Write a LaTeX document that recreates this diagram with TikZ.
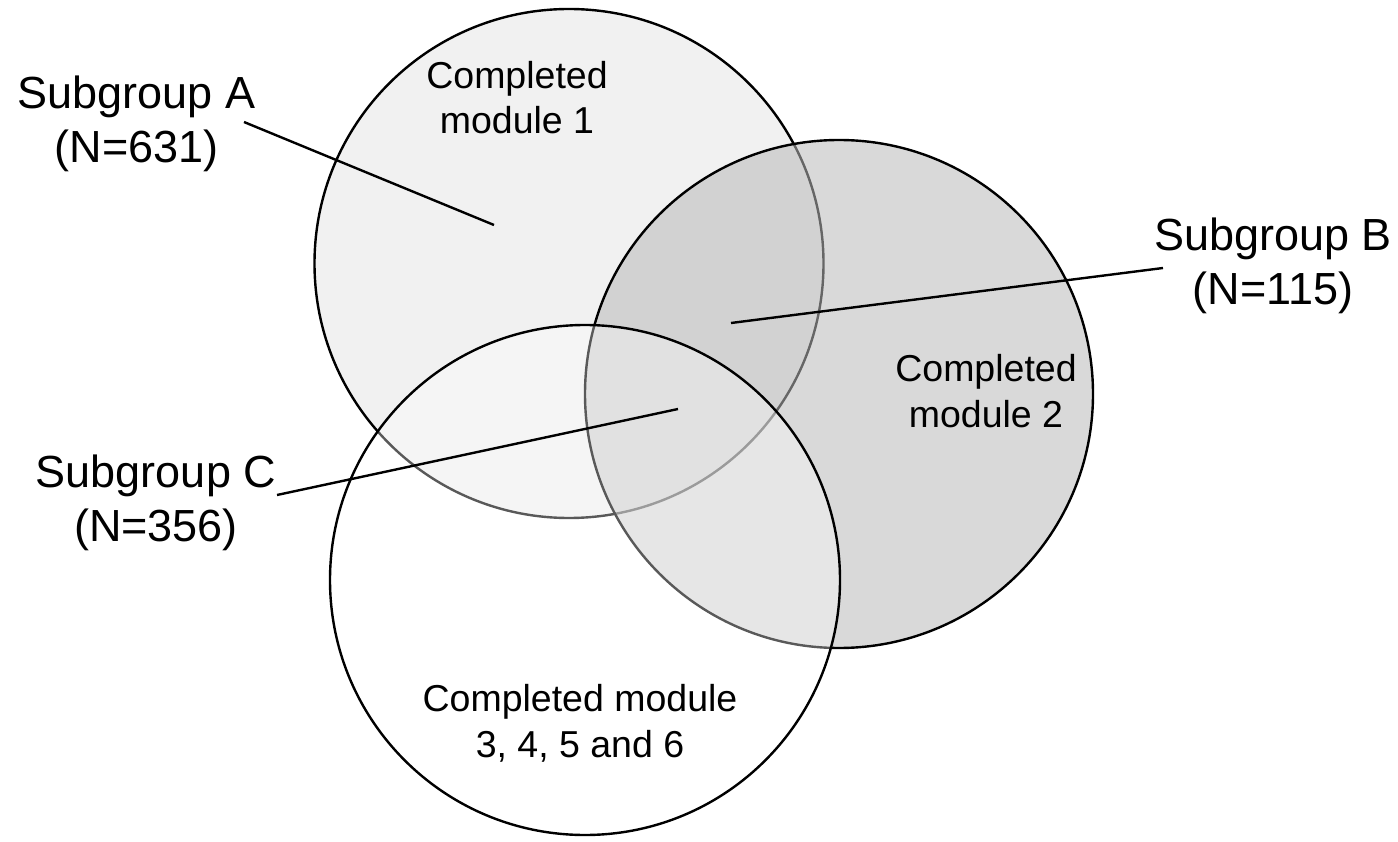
\documentclass[tikz,border=0pt]{standalone}
\usepackage{fontspec}
\setmainfont{Liberation Sans}
\begin{document}
\begin{tikzpicture}[x=1pt,y=-1pt,
  setcircle/.style={circle, draw=black, line width=2.4pt, inner sep=0pt},
  biglabel/.style={align=center, anchor=base, inner sep=0pt, font=\fontsize{45}{54}\selectfont},
  smalllabel/.style={align=center, anchor=base, inner sep=0pt, font=\fontsize{37.5}{45.5}\selectfont},
  pointer/.style={draw=black, line width=2.4pt}]
\useasboundingbox (0,0) rectangle (1398,842);
% circles
\node[setcircle, minimum size=509pt, fill=black!5.5] (A) at (569,263.5) {};
\node[setcircle, minimum size=508pt, fill=black!27, fill opacity=0.55] (B) at (839,394) {};
\node[setcircle, minimum size=510pt, fill=white, fill opacity=0.35] (C) at (585,580) {};
% circle texts (anchor=base is the baseline of the last line)
\node[smalllabel] (tA) at (517,134) {Completed\\module 1};
\node[smalllabel] (tB) at (986,427) {Completed\\module 2};
\node[smalllabel] (tC) at (580,757) {Completed module\\3, 4, 5 and 6};
% subgroup labels
\node[biglabel] (sA) at (136.5,163) {Subgroup A\\(N=631)};
\node[biglabel] (sB) at (1273,305) {Subgroup B\\(N=115)};
\node[biglabel] (sC) at (156,541) {Subgroup C\\(N=356)};
% pointer lines
\coordinate (a1) at (244,122);
\coordinate (a2) at (494,225);
\coordinate (b1) at (1163,268);
\coordinate (b2) at (731,323);
\coordinate (c1) at (277,495);
\coordinate (c2) at (678,409);
\draw[pointer] (a1) -- (a2);
\draw[pointer] (b1) -- (b2);
\draw[pointer] (c1) -- (c2);
\end{tikzpicture}
\end{document}
